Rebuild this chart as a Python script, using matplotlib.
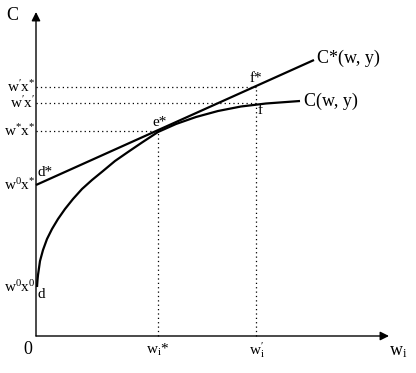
import matplotlib
matplotlib.use("Agg")
import matplotlib.pyplot as plt

plt.rcParams['mathtext.fontset'] = 'custom'
plt.rcParams['mathtext.rm'] = 'Liberation Serif'
plt.rcParams['mathtext.it'] = 'Liberation Serif:italic'
plt.rcParams['font.family'] = ['Liberation Serif', 'DejaVu Serif']

# ---- data (arbitrary units, origin at the axes corner) ----
# Short-run cost curve C(w, y)
curve_w = [1, 1.5, 2, 3, 4, 7, 11, 16, 22, 29, 37, 46, 56, 67, 79, 92, 106,
           122, 140, 160, 182, 205, 230, 264]
curve_c = [49, 56, 61, 68, 75, 86, 97, 107, 117, 127, 137, 147, 156, 165, 175,
           184, 193.5, 204, 212, 219, 225, 229.5, 232.5, 235]
# Long-run line C*(w, y)
line_w = [0, 278]
line_c = [151, 276]

w_star = 122
w_prime = 220
level_wpx_star = 249   # w'x*
level_wpx_prime = 233  # w'x'
level_wsx_star = 205   # w*x*
level_w0x_star = 151   # w0x*
level_w0x0 = 49        # w0x0

tick_labels_y = [r"$\mathrm{w}^{\prime}\mathrm{x}^{*}$",
                 r"$\mathrm{w}^{\prime}\mathrm{x}^{\prime}$",
                 r"$\mathrm{w}^{*}\mathrm{x}^{*}$",
                 r"$\mathrm{w}^{0}\mathrm{x}^{*}$",
                 r"$\mathrm{w}^{0}\mathrm{x}^{0}$"]
tick_values_y = [level_wpx_star, level_wpx_prime, level_wsx_star,
                 level_w0x_star, level_w0x0]

fig = plt.figure(figsize=(4.16, 3.73), dpi=100)
ax = fig.add_axes([0, 0, 1, 1])
ax.set_xlim(-36, 380)
ax.set_ylim(-37, 336)
ax.axis('off')

# axes with arrows
ax.annotate('', xy=(0, 324), xytext=(0, 0),
            arrowprops=dict(arrowstyle='-|>', color='black', lw=1.0,
                            mutation_scale=13, shrinkA=0, shrinkB=0))
ax.annotate('', xy=(353, 0), xytext=(0, 0),
            arrowprops=dict(arrowstyle='-|>', color='black', lw=1.0,
                            mutation_scale=13, shrinkA=0, shrinkB=0))

dot = dict(color='black', lw=0.9, linestyle=(0, (1, 2.5)))
# dotted guides
ax.plot([0, w_prime], [level_wpx_star] * 2, **dot)
ax.plot([0, w_prime], [level_wpx_prime] * 2, **dot)
ax.plot([0, w_star], [level_wsx_star] * 2, **dot)
ax.plot([w_star, w_star], [0, level_wsx_star], **dot)
ax.plot([w_prime, w_prime], [0, level_wpx_star], **dot)

# curves
ax.plot(curve_w, curve_c, color='black', lw=1.6, solid_capstyle='butt',
        solid_joinstyle='round')
ax.plot(line_w, line_c, color='black', lw=1.6, solid_capstyle='butt')

# y tick labels
for lab, v in zip(tick_labels_y, tick_values_y):
    ax.text(-1, v, lab, ha='right', va='center', fontsize=11)

# x tick labels
ax.text(w_star, -14, r"$\mathrm{w}_{\mathrm{i}}$*", ha='center', va='center', fontsize=11)
ax.text(w_prime + 1, -14, r"$\mathrm{w}_{\mathrm{i}}^{\prime}$", ha='center', va='center', fontsize=11)
ax.text(-8, -13, "0", ha='center', va='center', fontsize=13)

# axis titles
ax.text(-24, 320, "C", ha='center', va='center', fontsize=13)
ax.text(362, -16, r"$\mathrm{w}_{\mathrm{i}}$", ha='center', va='center', fontsize=13)

# point labels
ax.text(2, 163, "d*", ha='left', va='center', fontsize=11)
ax.text(2, 42, "d", ha='left', va='center', fontsize=11)
ax.text(124, 213, "e*", ha='center', va='center', fontsize=11)
ax.text(220, 258, "f*", ha='center', va='center', fontsize=11)
ax.text(224, 226, "f", ha='center', va='center', fontsize=11)

# curve labels
ax.text(line_w[-1] + 3, line_c[-1] + 2, "C*(w, y)", ha='left', va='center', fontsize=13)
ax.text(curve_w[-1] + 4, curve_c[-1], "C(w, y)", ha='left', va='center', fontsize=13)

fig.savefig("out.png", dpi=100)
